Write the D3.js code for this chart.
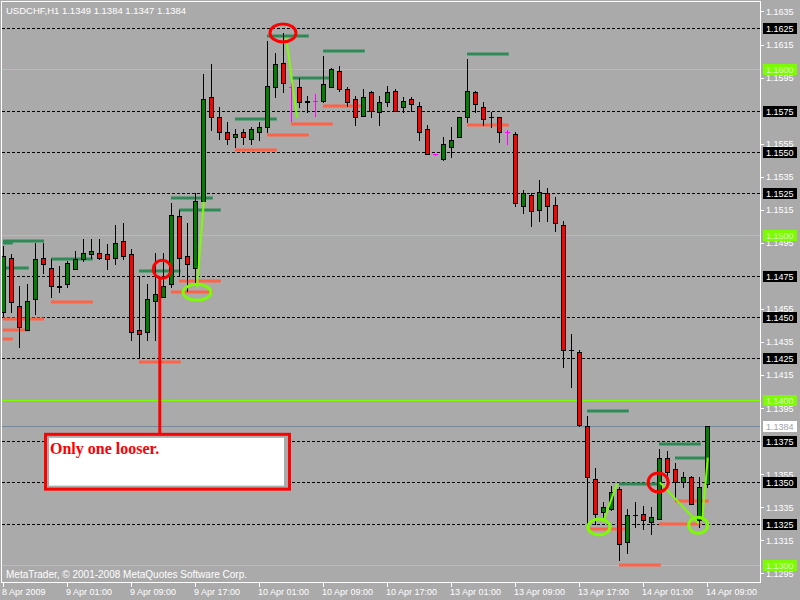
<!DOCTYPE html>
<html><head><meta charset="utf-8">
<script src="https://cdn.jsdelivr.net/npm/d3@7"></script>
<style>body{margin:0;background:#aaaaaa;} svg{display:block;}</style>
</head><body><svg id="c" width="800" height="600"></svg>
<script>
// ---------- DATA ----------
const titleText = "USDCHF,H1  1.1349 1.1384 1.1347 1.1384";
const footerText = "MetaTrader, \u00A9 2001-2008 MetaQuotes Software Corp.";
const opens  = [1.1453,1.1486,1.1457,1.1442,1.1461,1.1486,1.1480,1.1468,1.1470,1.1479,1.1485,1.1488,1.1489,1.1488,1.1486,1.1496,1.1488,1.1442,1.1441,1.1460,1.1462,1.1470,1.1511,1.1487,1.1480,1.1520,1.1583,1.1571,1.1562,1.1559,1.1562,1.1558,1.1562,1.1565,1.1589,1.1604,1.1589,1.1589,1.1581,1.1581,1.1581,1.1589,1.1599,1.1588,1.1582,1.1572,1.1586,1.1574,1.1580,1.1587,1.1577,1.1582,1.1578,1.1564,1.1549,1.1546,1.1553,1.1559,1.1571,1.1586,1.1577,1.1571,1.1571,1.1562,1.1561,1.1517,1.1524,1.1515,1.1525,1.1518,1.1506,1.1430,1.1429,1.1384,1.1352,1.1332,1.1334,1.1346,1.1314,1.1330,1.1331,1.1326,1.1328,1.1365,1.1358,1.1350,1.1353,1.1327,1.1349];
const highs  = [1.1493,1.1488,1.1469,1.1470,1.1495,1.1495,1.1485,1.1481,1.1484,1.1490,1.1497,1.1497,1.1497,1.1494,1.1506,1.1507,1.1491,1.1475,1.1470,1.1489,1.1489,1.1519,1.1515,1.1507,1.1525,1.1597,1.1603,1.1577,1.1568,1.1564,1.1564,1.1565,1.1568,1.1617,1.1610,1.1622,1.1592,1.1595,1.1584,1.1585,1.1608,1.1601,1.1602,1.1589,1.1584,1.1588,1.1587,1.1584,1.1590,1.1588,1.1583,1.1583,1.1580,1.1566,1.1549,1.1559,1.1565,1.1571,1.1606,1.1587,1.1580,1.1574,1.1571,1.1563,1.1562,1.1527,1.1525,1.1533,1.1528,1.1523,1.1508,1.1440,1.1430,1.1390,1.1359,1.1338,1.1348,1.1347,1.1334,1.1338,1.1336,1.1335,1.1370,1.1369,1.1362,1.1356,1.1354,1.1353,1.1384];
const lows   = [1.1451,1.1453,1.1432,1.1442,1.1452,1.1477,1.1462,1.1465,1.1468,1.1479,1.1484,1.1486,1.1485,1.1479,1.1482,1.1485,1.1436,1.1426,1.1436,1.1436,1.1462,1.1468,1.1475,1.1466,1.1471,1.1517,1.1563,1.1558,1.1555,1.1553,1.1555,1.1555,1.1557,1.1562,1.1583,1.1586,1.1569,1.1577,1.1574,1.1572,1.1580,1.1589,1.1587,1.1578,1.1566,1.1572,1.1571,1.1566,1.1578,1.1575,1.1574,1.1575,1.1557,1.1549,1.1548,1.1545,1.1547,1.1559,1.1568,1.1574,1.1566,1.1565,1.1556,1.1555,1.1517,1.1513,1.1505,1.1508,1.1508,1.1502,1.1420,1.1408,1.1384,1.1324,1.1325,1.1327,1.1333,1.1303,1.1307,1.1323,1.1322,1.1319,1.1328,1.1353,1.1341,1.1347,1.1337,1.1323,1.1347];
const closes = [1.1487,1.1459,1.1444,1.1460,1.1485,1.1482,1.1469,1.1469,1.1483,1.1485,1.1489,1.1490,1.1486,1.1485,1.1495,1.1487,1.1441,1.1440,1.1461,1.1464,1.1469,1.1512,1.1486,1.1482,1.1520,1.1582,1.1571,1.1562,1.1558,1.1561,1.1559,1.1564,1.1565,1.1590,1.1603,1.1592,1.1589,1.1580,1.1580,1.1581,1.1591,1.1600,1.1588,1.1580,1.1571,1.1583,1.1575,1.1580,1.1586,1.1575,1.1581,1.1579,1.1562,1.1549,1.1549,1.1555,1.1557,1.1571,1.1587,1.1579,1.1570,1.1571,1.1562,1.1562,1.1519,1.1525,1.1514,1.1526,1.1517,1.1507,1.1430,1.1430,1.1385,1.1353,1.1331,1.1335,1.1344,1.1313,1.1330,1.1330,1.1327,1.1329,1.1365,1.1356,1.1350,1.1353,1.1337,1.1347,1.1384];
const magentaBars = [36, 39, 54, 63];

const timeLabels = ["8 Apr 2009","9 Apr 01:00","9 Apr 09:00","9 Apr 17:00","10 Apr 01:00","10 Apr 09:00","10 Apr 17:00","13 Apr 01:00","13 Apr 09:00","13 Apr 17:00","14 Apr 01:00","14 Apr 09:00"];
const timeLabelBars = [0,8,16,24,32,40,48,56,64,72,80,88];

const priceTicks = [1.1635,1.1615,1.1595,1.1555,1.1535,1.1515,1.1495,1.1455,1.1435,1.1415,1.1395,1.1355,1.1335,1.1315,1.1295];
const dashedLevels = [1.1625,1.1575,1.1550,1.1525,1.1475,1.1450,1.1425,1.1375,1.1350,1.1325];
const roundLevels = [1.1600,1.1500,1.1400,1.1300];
const lastPrice = 1.1384;

// resistance (dark green) and support (salmon) segments: [startBar, endBar, price]
const resistSegs = [[0,5,1.1496],[0,1.1,1.1495],[0,3.1,1.1480],[6,11.1,1.1485],[17,22.1,1.1478],[21,26.1,1.1522],[22,27.1,1.1515],[29,34.1,1.1570],[33,38.1,1.1620],[36,41.1,1.1595],[40,45.1,1.1611],[58,63.1,1.1609],[73,78.1,1.1393],[77,82.1,1.1349],[82,87.1,1.1373],[84,88.1,1.1365]];
const supportSegs = [[0,5,1.1449],[0,3.1,1.1442],[0,1.1,1.1437],[6,11.1,1.1459],[17,22.1,1.1423],[21,26.1,1.1465],[22,27.1,1.1472],[29,34.1,1.1551],[33,38.1,1.1560],[36,41.1,1.1567],[40,45.1,1.1578],[58,63.1,1.1566],[73,78.1,1.1322],[77,82.1,1.1300],[82,87.1,1.1325],[84,88.1,1.1339]];

// annotations (bar, price)
const limeLines = [[[24.25,1.1468],[25.1,1.1520]],[[35.4,1.1619],[36.75,1.1571]],[[75,1.1326],[76.75,1.1349]],[[82.1,1.1350],[87,1.1325]],[[87.4,1.1327],[88.1,1.1365]]];
const limeEllipses = [[24.25,1.1465,14,8],[74.5,1.1323,11,8],[86.9,1.1324,9.5,8]];
const redCircles = [[19.9,1.1479,9,9],[35,1.1622,13,9],[81.9,1.1350,10,9.5]];
const noteText = "Only one looser.";
const noteBox = {bar0:5.125, bar1:36, p0:1.1380, p1:1.1345, anchorBar:19.6, anchorPrice:1.1474};

// ---------- DRAW ----------
const svg = d3.select("#c");
const bg = "#aaaaaa";
const x = d3.scaleLinear().domain([0, 88]).range([3, 707]);
const y = d3.scaleLinear().domain([1.1300, 1.1625]).range([565, 28]);
const L = 2, R = 760, T = 2, B = 582;
const font = "'Liberation Sans', Arial, sans-serif";

svg.append("rect").attr("width",800).attr("height",600).attr("fill",bg);
svg.append("defs").append("clipPath").attr("id","clip")
  .append("rect").attr("x",L).attr("y",T).attr("width",R-L).attr("height",B-T);
const g = svg.append("g").attr("clip-path","url(#clip)");
const py = p => Math.round(y(p)) + 0.5;

g.selectAll(".rl").data(roundLevels).join("line")
  .attr("x1",L).attr("x2",R).attr("y1",py).attr("y2",py)
  .attr("stroke","#7cfc00").attr("stroke-width",1);
g.selectAll(".dl").data(dashedLevels).join("line")
  .attr("x1",L).attr("x2",R).attr("y1",py).attr("y2",py)
  .attr("stroke","#000").attr("stroke-width",1).attr("stroke-dasharray","3,2");
g.append("line").attr("x1",L).attr("x2",R).attr("y1",py(lastPrice)).attr("y2",py(lastPrice))
  .attr("stroke","#778899").attr("stroke-width",1);

function segs(data, color){
  g.selectAll(null).data(data).join("line")
    .attr("x1",d=>x(d[0])).attr("x2",d=>x(d[1])+1)
    .attr("y1",d=>Math.round(y(d[2]))).attr("y2",d=>Math.round(y(d[2])))
    .attr("stroke",color).attr("stroke-width",3);
}
segs(resistSegs, "#2e8b57");
segs(supportSegs, "#ff6347");

const bars = d3.range(opens.length).map(i => ({i, o:opens[i], h:highs[i], l:lows[i], c:closes[i], m: magentaBars.includes(i)}));
const cg = g.append("g");
bars.forEach(d => {
  const cx = Math.round(x(d.i));
  const col = d.m ? "#ff00ff" : "#000";
  cg.append("line").attr("x1",cx+0.5).attr("x2",cx+0.5)
    .attr("y1",Math.round(y(d.h))).attr("y2",Math.round(y(d.l))+1)
    .attr("stroke",col).attr("stroke-width",1);
  if (d.o === d.c || d.m) {
    cg.append("line").attr("x1",cx-2).attr("x2",cx+3)
      .attr("y1",py(d.o)).attr("y2",py(d.o)).attr("stroke",col).attr("stroke-width",1);
  } else {
    const top = Math.round(y(Math.max(d.o,d.c))), bot = Math.round(y(Math.min(d.o,d.c)));
    cg.append("rect").attr("x",cx-1.5).attr("y",top+0.5)
      .attr("width",4).attr("height",Math.max(1,bot-top))
      .attr("fill", d.c > d.o ? "#008000" : "#ff0000")
      .attr("stroke","#000").attr("stroke-width",1);
  }
});

const ag = g.append("g");
limeLines.forEach(l => ag.append("line")
  .attr("x1",x(l[0][0])).attr("y1",y(l[0][1])).attr("x2",x(l[1][0])).attr("y2",y(l[1][1]))
  .attr("stroke","#7cfc00").attr("stroke-width",2));
ag.selectAll(".le").data(limeEllipses).join("ellipse")
  .attr("cx",d=>x(d[0])).attr("cy",d=>y(d[1])).attr("rx",d=>d[2]).attr("ry",d=>d[3])
  .attr("fill","none").attr("stroke","#7cfc00").attr("stroke-width",3);
ag.selectAll(".rc").data(redCircles).join("ellipse")
  .attr("cx",d=>x(d[0])).attr("cy",d=>y(d[1])).attr("rx",d=>d[2]).attr("ry",d=>d[3])
  .attr("fill","none").attr("stroke","#ff0000").attr("stroke-width",3);

const bx0 = x(noteBox.bar0), bx1 = x(noteBox.bar1), by0 = y(noteBox.p0), by1 = y(noteBox.p1);
ag.append("line").attr("x1",x(noteBox.anchorBar)).attr("x2",x(noteBox.anchorBar))
  .attr("y1",y(noteBox.anchorPrice)).attr("y2",by0+1).attr("stroke","#ff0000").attr("stroke-width",3);
ag.append("rect").attr("x",bx0+1.5).attr("y",by0+1.5).attr("width",bx1-bx0-3).attr("height",by1-by0-3)
  .attr("fill",bg).attr("stroke","#ff0000").attr("stroke-width",3);
ag.append("rect").attr("x",bx0+5).attr("y",by0+5).attr("width",bx1-bx0-12).attr("height",by1-by0-10)
  .attr("fill","#ffffff");
ag.append("text").attr("x",bx0+6).attr("y",by0+21).text(noteText)
  .attr("fill","#ff0000").attr("font-family","'Liberation Serif','Times New Roman',serif")
  .attr("font-weight","bold").attr("font-size",16);

svg.append("line").attr("x1",1.5).attr("x2",1.5).attr("y1",1).attr("y2",B+1).attr("stroke","#fff");
svg.append("line").attr("x1",1).attr("x2",R+1).attr("y1",1.5).attr("y2",1.5).attr("stroke","#fff");
svg.append("line").attr("x1",R+0.5).attr("x2",R+0.5).attr("y1",1).attr("y2",B+1).attr("stroke","#fff");
svg.append("line").attr("x1",1).attr("x2",R+1).attr("y1",B+0.5).attr("y2",B+0.5).attr("stroke","#fff");

svg.append("text").attr("x",6).attr("y",14).text(titleText)
  .attr("fill","#fff").attr("font-family",font).attr("font-size",9.5);
svg.append("text").attr("x",6).attr("y",578).text(footerText)
  .attr("fill","#fff").attr("font-family",font).attr("font-size",10);

svg.selectAll(".xt").data(timeLabelBars).join("line")
  .attr("x1",d=>Math.round(x(d))+0.5).attr("x2",d=>Math.round(x(d))+0.5)
  .attr("y1",B).attr("y2",B+5).attr("stroke","#fff");
svg.selectAll(".xl").data(timeLabelBars).join("text")
  .attr("x",d=>x(d)-1).attr("y",595).text((d,i)=>timeLabels[i])
  .attr("fill","#fff").attr("font-family",font).attr("font-size",9);

svg.selectAll(".yt").data(priceTicks).join("line")
  .attr("x1",R).attr("x2",R+4).attr("y1",py).attr("y2",py).attr("stroke","#fff");
svg.selectAll(".yl").data(priceTicks).join("text")
  .attr("x",766).attr("y",d=>y(d)+3.5).text(d=>d.toFixed(4))
  .attr("fill","#fff").attr("font-family",font).attr("font-size",9);

function tagLabels(levels, bgc, fg){
  const tg = svg.append("g");
  levels.forEach(p => {
    const cy = Math.round(y(p));
    tg.append("rect").attr("x",763).attr("y",cy-5).attr("width",34).attr("height",11).attr("fill",bgc);
    tg.append("text").attr("x",766).attr("y",cy+4).text(p.toFixed(4))
      .attr("fill",fg).attr("font-family",font).attr("font-size",9);
  });
}
tagLabels(dashedLevels, "#000000", "#ffffff");
tagLabels(roundLevels, "#7cfc00", "#dfffc8");
tagLabels([lastPrice], "#ffffff", "#a0a4a8");
</script></body></html>
